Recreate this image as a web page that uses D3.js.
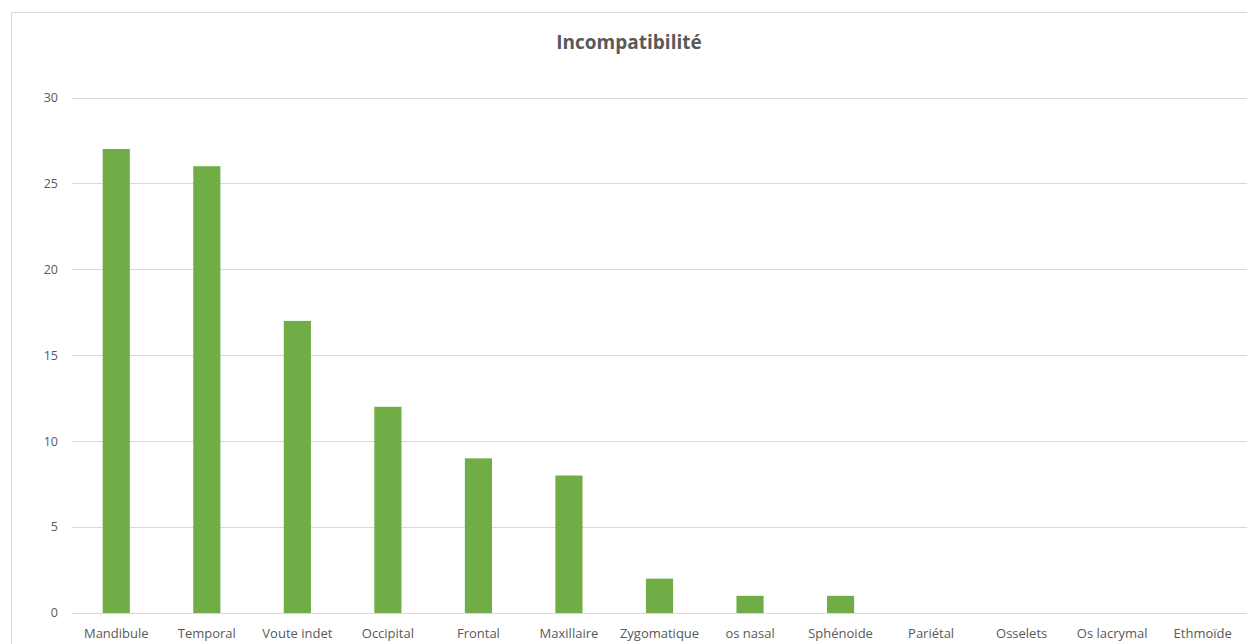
<!DOCTYPE html>
<html><head><meta charset="utf-8">
<script src="https://cdn.jsdelivr.net/npm/d3@7"></script>
<style>body{margin:0;background:#fff;} svg{display:block;}</style>
</head><body>
<script>
const categories = ["Mandibule","Temporal","Voute indet","Occipital","Frontal","Maxillaire","Zygomatique","os nasal","Sphénoide","Pariétal","Osselets","Os lacrymal","Ethmoïde"];
const values = [27,26,17,12,9,8,2,1,1,0,0,0,0];
const yTicks = [0,5,10,15,20,25,30];
const title = "Incompatibilité";

const W = 1247, H = 644;
const svg = d3.select("body").append("svg").attr("width", W).attr("height", H);
const font = "Open Sans, Liberation Sans, sans-serif";

svg.append("rect").attr("x", 11.5).attr("y", 12.5).attr("width", W + 20).attr("height", H + 20)
  .attr("fill", "#fff").attr("stroke", "#d9d9d9").attr("stroke-width", 1);

const x = d3.scaleBand().domain(categories).range([71, 1248]).padding(0);
const y = d3.scaleLinear().domain([0, 30]).range([613, 97.5]);

svg.append("g").selectAll("line").data(yTicks).join("line")
  .attr("x1", 72).attr("x2", W).attr("y1", d => Math.round(y(d)) + 0.5).attr("y2", d => Math.round(y(d)) + 0.5)
  .attr("stroke", "#d9d9d9").attr("stroke-width", 1);

svg.append("g").selectAll("text").data(yTicks).join("text")
  .attr("x", 58).attr("y", d => y(d)).attr("dy", "0.35em").attr("text-anchor", "end")
  .attr("font-family", font).attr("font-size", 12.5).attr("fill", "#595959").text(d => d);

const bw = x.step() * 0.3;
svg.append("g").selectAll("rect").data(values).join("rect")
  .attr("x", (d, i) => x(categories[i]) + x.step() / 2 - bw / 2)
  .attr("y", d => y(d)).attr("width", bw).attr("height", d => y(0) - y(d))
  .attr("fill", "#70ad47");

svg.append("g").selectAll("text").data(categories).join("text")
  .attr("x", d => x(d) + x.step() / 2).attr("y", 633).attr("dy", "0.35em").attr("text-anchor", "middle")
  .attr("font-family", font).attr("font-size", 13).attr("fill", "#595959").text(d => d);

svg.append("text").attr("x", 629).attr("y", 42).attr("dy", "0.35em").attr("text-anchor", "middle")
  .attr("font-family", font).attr("font-size", 19).attr("font-weight", "bold").attr("fill", "#595959").text(title);
</script>
</body></html>
